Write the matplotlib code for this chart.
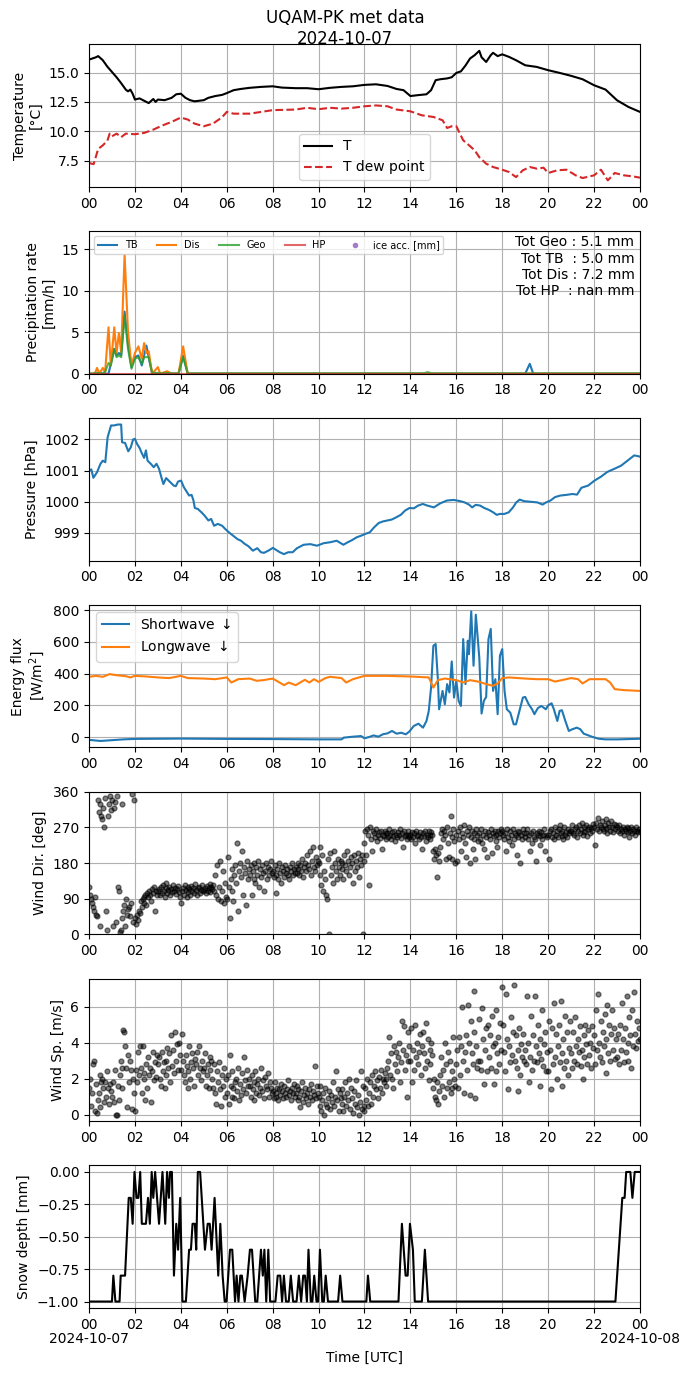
import numpy as np
import matplotlib
matplotlib.use("Agg")
import matplotlib.pyplot as plt
import matplotlib.dates as mdates

day = np.datetime64("2024-10-07T00:00")

# temperature [degC]
t_hours = [0, 0.3, 0.4, 0.6, 0.8, 1.0, 1.2, 1.4, 1.6, 1.7, 1.8, 1.9, 2.0, 2.2, 2.4, 2.6, 2.8, 2.9, 3.0, 3.3,
           3.6, 3.8, 4.0, 4.2, 4.4, 4.6, 5.0, 5.2, 5.5, 5.8, 6.0, 6.3, 6.6, 7.0, 7.5, 8.0, 8.4, 9.0, 9.5, 10.0,
           10.5, 11.0, 11.5, 12.0, 12.5, 13.0, 13.4, 13.7, 14.0, 14.3, 14.7, 14.9, 15.1, 15.3, 15.6, 15.8, 16.0,
           16.2, 16.4, 16.6, 16.8, 17.0, 17.1, 17.3, 17.5, 17.6, 17.8, 18.0, 18.3, 18.6, 19.0, 19.5, 20.0, 20.5,
           21.0, 21.5, 22.0, 22.5, 23.0, 23.5, 24.0]
temp = [16.1, 16.3, 16.4, 16.05, 15.5, 15.05, 14.6, 14.1, 13.55, 13.4, 13.55, 13.2, 12.7, 12.8, 12.6, 12.4,
        12.75, 12.5, 12.7, 12.65, 12.85, 13.15, 13.2, 12.85, 12.65, 12.55, 12.65, 12.85, 13.0, 13.1, 13.25, 13.5,
        13.6, 13.7, 13.78, 13.83, 13.72, 13.67, 13.67, 13.58, 13.7, 13.78, 13.83, 13.95, 14.0, 13.86, 13.6, 13.5,
        13.0, 13.07, 13.15, 13.5, 14.35, 14.43, 14.5, 14.6, 14.97, 15.1, 15.6, 16.2, 16.48, 16.85, 16.3, 15.9,
        16.48, 16.68, 16.4, 16.55, 16.33, 16.05, 15.62, 15.48, 15.2, 14.97, 14.72, 14.43, 13.92, 13.55, 12.64,
        12.07, 11.65]
td_hours = [0, 0.2, 0.4, 0.6, 0.8, 0.9, 1.0, 1.2, 1.4, 1.6, 2.0, 2.4, 2.8, 3.2, 3.6, 4.0, 4.3, 4.6, 5.0, 5.4,
            5.8, 6.0, 6.3, 7.0, 7.5, 8.0, 9.0, 9.5, 10.0, 10.5, 11.0, 11.5, 12.0, 12.5, 13.0, 13.4, 14.0, 14.5,
            15.0, 15.4, 15.6, 15.8, 16.0, 16.3, 16.5, 16.8, 17.0, 17.3, 17.6, 18.0, 18.3, 18.6, 18.9, 19.2, 19.5,
            19.8, 20.0, 20.4, 20.8, 21.2, 21.5, 22.0, 22.3, 22.6, 22.9, 23.3, 23.7, 24.0]
dewpoint = [7.3, 7.2, 8.5, 8.8, 9.2, 9.8, 9.57, 9.8, 9.5, 9.8, 9.75, 9.86, 10.14, 10.5, 10.8, 11.17, 11.0,
            10.65, 10.43, 10.65, 11.2, 11.65, 11.5, 11.5, 11.65, 11.8, 11.85, 12.0, 11.88, 12.0, 11.93, 12.0,
            12.13, 12.2, 12.13, 11.85, 11.7, 11.36, 11.22, 10.94, 10.28, 10.43, 10.43, 9.23, 8.9, 8.38, 7.8,
            7.24, 6.96, 6.73, 6.53, 6.1, 6.68, 6.96, 6.82, 6.9, 6.45, 6.68, 6.73, 6.25, 6.02, 6.25, 6.73, 5.82,
            6.45, 6.25, 6.16, 6.05]

# precipitation rate [mm/h]
pr_hours = [0, 0.25, 0.35, 0.45, 0.6, 0.7, 0.85, 0.95, 1.1, 1.2, 1.3, 1.4, 1.55, 1.7, 1.85, 2.0, 2.15, 2.3,
            2.4, 2.5, 2.6, 2.75, 3.0, 3.1, 3.4, 3.6, 3.9, 4.1, 4.3, 5.0, 14.6, 14.75, 14.9, 19.0, 19.2, 19.35, 24]
pr_tb = [0, 0, 0, 0, 0, 0, 0, 1.2, 3.0, 2.2, 2.5, 2.2, 7.5, 3.5, 0.8, 2.0, 2.2, 1.0, 2.2, 3.4, 2.0, 0, 0, 0,
         0, 0, 0, 2.2, 0, 0, 0, 0, 0, 0, 1.2, 0, 0]
pr_dis = [0, 0, 0.7, 0, 0.7, 0.2, 5.6, 1.0, 5.6, 2.5, 4.9, 2.6, 14.4, 5.0, 1.0, 2.5, 3.3, 1.8, 3.7, 2.5, 2.7,
          0, 0.8, 0, 0.3, 0, 0, 3.3, 0, 0, 0, 0, 0, 0, 0, 0, 0]
pr_geo = [0, 0.05, 0.1, 0.05, 0.1, 0.2, 1.3, 1.0, 3.0, 2.0, 2.2, 2.0, 7.0, 3.0, 0.6, 1.8, 2.0, 1.2, 2.0, 2.0,
          2.0, 0.1, 0.1, 0.05, 0.1, 0.05, 0.05, 2.0, 0.05, 0.05, 0.05, 0.2, 0.05, 0.05, 0.05, 0.05, 0.05]
pr_hp = [0] * len(pr_hours)
totals_txt = "Tot Geo : 5.1 mm\nTot TB  : 5.0 mm\nTot Dis : 7.2 mm\nTot HP  : nan mm"

# pressure [hPa]
p_hours = [0, 0.1, 0.19, 0.35, 0.5, 0.6, 0.71, 0.81, 0.96, 1.09, 1.25, 1.4, 1.44, 1.57, 1.71, 1.82, 1.92, 2.0,
           2.09, 2.21, 2.28, 2.4, 2.48, 2.55, 2.69, 2.82, 2.94, 3.05, 3.17, 3.24, 3.36, 3.51, 3.69, 3.78, 3.88,
           4.01, 4.13, 4.24, 4.36, 4.47, 4.55, 4.61, 4.74, 4.9, 5.03, 5.2, 5.32, 5.45, 5.61, 5.8, 5.93, 6.09,
           6.28, 6.47, 6.62, 6.78, 6.95, 7.14, 7.33, 7.49, 7.62, 7.81, 8.01, 8.16, 8.31, 8.49, 8.68, 8.87, 9.06,
           9.35, 9.64, 9.93, 10.22, 10.5, 10.79, 11.08, 11.27, 11.46, 11.66, 11.85, 12.04, 12.23, 12.42, 12.62,
           12.81, 13.0, 13.19, 13.38, 13.58, 13.77, 13.96, 14.15, 14.34, 14.54, 14.73, 15.02, 15.3, 15.59, 15.88,
           16.17, 16.36, 16.55, 16.69, 16.84, 17.03, 17.22, 17.42, 17.61, 17.76, 17.9, 18.09, 18.28, 18.47,
           18.61, 18.76, 18.95, 19.24, 19.53, 19.76, 19.91, 20.1, 20.3, 20.53, 20.78, 21.06, 21.26, 21.45,
           21.74, 22.02, 22.31, 22.56, 22.7, 22.89, 23.18, 23.37, 23.56, 23.75, 24.0]
pressure = [1001.0, 1001.04, 1000.77, 1000.95, 1001.22, 1001.32, 1001.27, 1002.07, 1002.45, 1002.45,
            1002.48, 1002.48, 1001.91, 1001.89, 1001.62, 1001.75, 1002.0, 1002.02, 1001.86, 1001.72,
            1001.59, 1001.41, 1001.65, 1001.32, 1001.22, 1001.11, 1001.22, 1001.06, 1000.74, 1000.57,
            1000.76, 1000.65, 1000.52, 1000.5, 1000.65, 1000.68, 1000.47, 1000.34, 1000.2, 1000.22,
            1000.04, 999.8, 999.77, 999.66, 999.56, 999.4, 999.45, 999.23, 999.29, 999.23,
            999.13, 999.02, 998.91, 998.8, 998.75, 998.65, 998.57, 998.43, 998.51, 998.38,
            998.36, 998.43, 998.52, 998.45, 998.38, 998.32, 998.38, 998.38, 998.51, 998.62,
            998.64, 998.59, 998.67, 998.7, 998.75, 998.62, 998.7, 998.77, 998.86, 998.91,
            998.97, 999.02, 999.18, 999.32, 999.37, 999.4, 999.43, 999.5, 999.58, 999.72,
            999.8, 999.79, 999.88, 999.93, 999.88, 999.82, 999.95, 1000.04, 1000.06, 1000.02,
            999.98, 999.91, 999.82, 999.9, 999.88, 999.8, 999.74, 999.66, 999.58, 999.61,
            999.61, 999.66, 999.82, 999.98, 1000.07, 1000.02, 1000.0, 999.98, 999.91, 999.98,
            1000.04, 1000.15, 1000.2, 1000.22, 1000.25, 1000.23, 1000.45, 1000.52, 1000.68, 1000.81,
            1000.95, 1001.0, 1001.06, 1001.16, 1001.27, 1001.38, 1001.49, 1001.45]

# radiation [W/m2]
sw_hours = [0, 0.5, 1.0, 1.5, 2.0, 4.0, 6.0, 8.0, 10.0, 11.0, 11.1, 11.5, 11.85, 12.0, 12.2, 12.4, 12.6, 12.8,
            13.0, 13.2, 13.4, 13.6, 13.8, 13.95, 14.15, 14.35, 14.55, 14.7, 14.8, 14.9, 15.0, 15.1, 15.2, 15.25,
            15.4, 15.5, 15.6, 15.7, 15.8, 15.9, 16.0, 16.1, 16.2, 16.3, 16.4, 16.5, 16.55, 16.65, 16.75, 16.85,
            17.0, 17.1, 17.2, 17.3, 17.4, 17.5, 17.6, 17.7, 17.8, 17.9, 18.0, 18.1, 18.2, 18.35, 18.5, 18.6,
            18.75, 18.9, 19.0, 19.15, 19.3, 19.4, 19.55, 19.7, 19.9, 20.0, 20.15, 20.25, 20.4, 20.5, 20.6, 20.75,
            20.9, 21.05, 21.25, 21.4, 21.55, 21.7, 21.9, 22.2, 22.5, 23.0, 24.0]
shortwave = [-18, -25, -20, -15, -12, -10, -12, -13, -15, -15, -4, 2, 6, -8, 0, 10, 2, 17, 23, 38, 21, 27, 17,
             34, 70, 84, 59, 101, 165, 312, 576, 587, 355, 175, 291, 207, 334, 281, 477, 249, 355, 228, 196,
             618, 334, 608, 523, 793, 450, 772, 502, 148, 228, 253, 618, 682, 291, 365, 144, 513, 555, 291, 175,
             154, 80, 80, 165, 249, 253, 207, 175, 144, 182, 196, 175, 200, 213, 175, 101, 165, 169, 101, 38, 49,
             59, 49, 21, 13, 2, -11, -15, -15, -11]
lw_hours = [0, 0.3, 0.6, 0.9, 1.2, 1.6, 1.8, 2.0, 2.5, 3.0, 3.5, 4.0, 4.3, 5.0, 5.5, 6.0, 6.2, 6.5, 7.0, 7.3,
            7.6, 8.0, 8.3, 8.5, 8.7, 9.0, 9.4, 9.6, 9.8, 10.0, 10.3, 10.5, 11.0, 11.2, 11.5, 12.0, 13.0, 14.0,
            14.8, 15.0, 15.2, 15.5, 16.0, 16.3, 16.6, 17.0, 17.3, 17.6, 17.8, 18.0, 18.3, 19.0, 19.5, 20.0, 20.3,
            20.6, 21.0, 21.3, 21.5, 21.8, 22.5, 22.7, 22.9, 23.3, 24.0]
longwave = [380, 386, 380, 397, 390, 384, 376, 386, 382, 376, 372, 386, 372, 369, 365, 376, 344, 365, 369,
            355, 359, 369, 344, 327, 344, 327, 361, 344, 365, 348, 372, 380, 372, 344, 365, 386, 386, 382, 376,
            312, 359, 369, 359, 344, 359, 348, 334, 323, 338, 372, 376, 369, 365, 365, 350, 359, 372, 365, 338,
            365, 365, 344, 302, 296, 291]

# wind, one value every 2.5 minutes (one row per hour)
wind_dir = [
    120, 100, 90, 80, 70, 60, 95, 50, 45, 340, 310, 330, 20, 300, 290, 320, 270, 345, 60, 10, 300, 330, 350, 315,
    340, 20, 320, 335, 30, 350, 120, 110, 5, 10, 330, 40, 60, 75, 20, 90, 50, 65, 70, 45, 80, 355, 30, 340,
    40, 25, 50, 35, 60, 55, 85, 70, 90, 95, 80, 100, 75, 105, 95, 110, 100, 85, 115, 105, 120, 60, 110, 100,
    110, 115, 100, 120, 105, 125, 110, 95, 118, 130, 105, 112, 120, 100, 115, 108, 125, 110, 118, 102, 115, 122, 108, 95,
    80, 110, 118, 100, 125, 112, 95, 120, 108, 115, 100, 122, 110, 118, 104, 126, 112, 98, 116, 120, 105, 113, 124, 110,
    112, 118, 105, 122, 110, 116, 128, 108, 120, 115, 125, 110, 150, 100, 175, 90, 120, 185, 85, 110, 160, 80, 130, 95,
    90, 195, 120, 40, 140, 110, 165, 85, 150, 175, 130, 230, 60, 160, 180, 145, 210, 100, 170, 155, 75, 185, 140, 165,
    150, 175, 100, 160, 140, 180, 130, 170, 150, 185, 120, 165, 145, 175, 155, 110, 160, 180, 140, 170, 150, 165, 185, 155,
    160, 145, 175, 150, 105, 165, 140, 180, 155, 130, 170, 160, 145, 175, 155, 165, 150, 140, 170, 160, 180, 150, 165, 155,
    170, 155, 180, 165, 150, 175, 160, 190, 145, 170, 180, 160, 200, 175, 165, 210, 150, 185, 220, 170, 160, 195, 175, 185,
    180, 150, 220, 125, 200, 110, 160, 140, 100, 90, 190, 0, 205, 150, 170, 130, 210, 180, 160, 140, 190, 170, 150, 185,
    165, 180, 140, 200, 175, 160, 210, 185, 150, 170, 195, 180, 130, 200, 160, 185, 170, 205, 145, 190, 175, 200, 0, 185,
    230, 260, 200, 265, 250, 125, 270, 240, 210, 260, 255, 245, 265, 235, 250, 258, 242, 262, 215, 252, 248, 260, 240, 255,
    255, 245, 265, 250, 240, 258, 248, 262, 235, 252, 245, 258, 250, 265, 242, 255, 220, 260, 248, 252, 240, 262, 250, 245,
    250, 240, 258, 245, 255, 230, 262, 248, 252, 240, 258, 245, 215, 255, 248, 260, 235, 252, 245, 262, 250, 240, 258, 250,
    210, 190, 215, 200, 145, 205, 185, 220, 255, 265, 240, 260, 250, 190, 270, 230, 195, 255, 300, 245, 190, 265, 235, 180,
    250, 185, 260, 240, 270, 210, 255, 245, 275, 230, 195, 260, 250, 270, 180, 245, 260, 215, 255, 240, 190, 265, 250, 235,
    255, 240, 265, 230, 250, 215, 262, 245, 195, 258, 250, 240, 265, 205, 255, 248, 262, 235, 250, 220, 260, 245, 255, 265,
    262, 250, 240, 255, 210, 265, 245, 235, 260, 250, 225, 265, 240, 255, 250, 200, 262, 245, 258, 180, 250, 240, 265, 255,
    245, 255, 265, 240, 250, 210, 255, 230, 260, 245, 240, 185, 255, 250, 262, 225, 248, 258, 240, 252, 265, 210, 250, 245,
    250, 190, 260, 265, 245, 255, 240, 270, 250, 260, 245, 265, 275, 255, 248, 262, 240, 270, 252, 258, 245, 265, 255, 260,
    260, 275, 255, 250, 265, 270, 245, 260, 275, 255, 265, 280, 250, 270, 258, 262, 275, 248, 265, 272, 255, 268, 260, 278,
    270, 225, 280, 265, 295, 260, 275, 270, 285, 265, 260, 275, 290, 268, 255, 280, 272, 262, 285, 270, 258, 278, 265, 275,
    270, 260, 275, 255, 265, 260, 270, 250, 265, 260, 270, 258, 268, 245, 262, 272, 255, 266, 260, 250, 270, 262, 258, 265,
    260]
wind_sp = [
    1.5, 2.0, 0.5, 1.2, 2.8, 3.0, 0.2, 1.7, 0.1, 0.8, 1.2, 2.2, 0.4, 1.8, 2.0, 1.5, 0.7, 1.8, 1.0, 2.4, 1.5, 0.6, 1.7, 1.3,
    1.0, 1.8, 0.7, 2.5, 0.0, 0.0, 1.6, 0.8, 2.2, 3.0, 1.5, 2.6, 4.7, 4.6, 3.8, 2.6, 0.4, 3.3, 1.8, 3.0, 2.5, 0.3, 2.0, 1.2,
    0.2, 2.5, 1.8, 3.5, 2.2, 3.8, 2.6, 1.2, 3.8, 2.0, 2.3, 0.8, 2.8, 1.5, 3.2, 2.2, 2.6, 0.7, 2.4, 3.5, 1.9, 2.9, 2.1, 3.3,
    2.8, 3.2, 2.0, 1.6, 3.5, 2.4, 2.9, 1.5, 3.0, 2.2, 3.7, 2.6, 3.4, 1.8, 4.4, 2.7, 3.6, 2.3, 4.6, 3.0, 3.9, 2.5, 4.0, 3.3,
    2.5, 4.5, 3.0, 2.2, 1.8, 3.3, 2.7, 1.5, 2.4, 3.8, 2.0, 2.9, 3.4, 2.6, 1.6, 3.1, 2.8, 3.5, 2.2, 3.8, 2.6, 1.9, 3.0, 2.4,
    2.6, 3.4, 1.6, 2.2, 2.8, 1.5, 3.2, 2.5, 3.0, 2.0, 1.5, 2.8, 1.2, 0.6, 2.4, 1.8, 2.9, 1.4, 0.5, 2.2, 1.6, 2.6, 1.0, 2.0,
    1.2, 2.2, 0.6, 3.3, 1.6, 1.0, 2.4, 1.5, 0.9, 1.8, 2.0, 1.3, 2.6, 0.8, 1.7, 1.1, 2.3, 1.4, 3.2, 1.9, 1.2, 2.5, 1.6, 2.0,
    1.6, 1.0, 2.2, 1.4, 1.8, 0.8, 2.4, 1.2, 1.7, 2.0, 1.1, 1.5, 2.6, 1.3, 1.9, 0.9, 2.1, 1.6, 1.4, 2.3, 1.0, 1.8, 1.5, 1.2,
    1.3, 0.9, 1.8, 1.2, 1.0, 1.5, 0.8, 1.4, 1.1, 1.7, 1.3, 0.9, 1.6, 1.2, 1.0, 1.4, 1.9, 1.1, 1.3, 0.8, 1.5, 1.2, 1.7, 1.0,
    1.2, 1.6, 0.8, 1.4, 1.0, 0.4, 1.3, 1.8, 0.7, 1.1, 1.5, 0.9, 1.2, 0.6, 1.4, 1.0, 1.7, 0.8, 1.3, 1.1, 2.7, 0.9, 1.6, 1.2,
    1.0, 0.5, 1.6, 0.2, 0.8, 1.2, 0.0, 1.5, 0.6, 0.4, 0.9, 1.3, 0.3, 1.1, 0.7, 1.8, 0.5, 1.0, 2.4, 0.8, 1.4, 0.2, 1.2, 0.9,
    0.6, 1.4, 0.2, 1.0, 1.8, 0.5, 1.2, 0.8, 2.0, 0.3, 1.5, 0.9, 0.1, 1.3, 0.6, 1.9, 0.4, 1.1, 0.0, 0.7, 2.4, 0.3, 1.6, 0.5,
    0.2, 1.5, 0.8, 2.0, 0.5, 1.2, 1.8, 0.6, 2.2, 1.0, 1.6, 2.4, 1.4, 1.9, 0.9, 2.1, 1.5, 2.5, 1.2, 2.0, 1.8, 2.3, 1.6, 2.0,
    2.6, 3.0, 4.3, 2.2, 3.4, 2.0, 1.5, 3.8, 2.8, 3.5, 2.4, 3.2, 4.0, 1.8, 2.9, 5.2, 3.6, 4.9, 2.5, 3.3, 1.0, 4.6, 3.0, 3.8,
    3.0, 4.8, 1.8, 3.6, 2.5, 5.0, 3.2, 4.0, 2.8, 3.5, 4.5, 2.2, 3.8, 4.6, 3.4, 2.6, 5.1, 3.0, 4.2, 1.9, 3.6, 2.8, 4.0, 3.3,
    1.5, 2.0, 1.0, 0.8, 1.8, 0.6, 1.3, 2.2, 3.2, 1.6, 2.5, 1.0, 4.0, 2.8, 1.5, 3.5, 1.8, 3.0, 1.2, 2.4, 1.5, 4.3, 2.0, 1.6,
    2.8, 3.6, 1.5, 4.3, 2.2, 3.8, 6.0, 3.0, 1.2, 3.5, 4.4, 2.5, 6.1, 4.0, 1.1, 5.2, 3.4, 2.8, 6.9, 4.6, 0.9, 3.8, 2.6, 3.0,
    5.3, 3.0, 2.5, 5.9, 4.2, 1.7, 3.6, 4.8, 2.4, 5.0, 3.2, 4.4, 2.6, 5.5, 3.8, 1.7, 4.0, 2.4, 5.8, 3.4, 4.3, 2.8, 5.1, 3.6,
    7.1, 5.0, 3.5, 2.4, 6.7, 4.2, 1.4, 3.8, 2.9, 5.4, 3.3, 4.6, 7.2, 3.0, 4.4, 2.6, 1.3, 3.6, 4.8, 2.2, 3.9, 3.2, 4.5, 3.0,
    3.6, 2.8, 6.6, 4.0, 1.8, 3.2, 5.5, 2.5, 4.4, 3.0, 6.6, 3.8, 2.9, 5.0, 3.4, 1.6, 4.2, 3.1, 5.8, 2.7, 3.9, 4.6, 2.4, 3.5,
    2.4, 5.2, 3.6, 1.4, 4.8, 2.8, 6.2, 3.2, 4.5, 2.0, 3.8, 5.0, 2.9, 6.3, 3.4, 1.6, 4.2, 2.6, 5.5, 3.0, 4.6, 2.2, 3.7, 5.2,
    3.4, 2.6, 4.6, 3.0, 5.4, 3.8, 2.8, 4.2, 3.5, 4.9, 2.7, 3.6, 2.0, 4.4, 3.2, 5.0, 3.9, 2.8, 4.7, 3.3, 4.0, 2.6, 4.9, 3.7,
    4.4, 2.8, 5.8, 3.6, 6.7, 4.0, 3.2, 5.2, 2.9, 4.6, 3.8, 5.6, 2.3, 4.2, 6.1, 3.4, 5.0, 3.0, 4.5, 5.8, 3.6, 4.8, 3.1, 4.2,
    3.2, 4.5, 2.8, 5.0, 3.6, 6.2, 4.2, 2.9, 4.8, 3.5, 6.6, 4.0, 3.0, 5.4, 4.4, 2.6, 5.8, 3.8, 6.8, 4.5, 3.7, 5.2, 4.1, 4.8,
    4.2]

# snow depth [mm]
snow_hours = [0, 1.0, 1.06, 1.15, 1.33, 1.38, 1.57, 1.73, 1.82, 1.9, 1.98, 2.07, 2.15, 2.23, 2.3, 2.48, 2.57,
              2.65, 2.73, 2.8, 2.88, 3.05, 3.2, 3.32, 3.4, 3.48, 3.53, 3.61, 3.7, 3.8, 3.88, 3.97, 4.07, 4.22,
              4.36, 4.44, 4.51, 4.61, 4.67, 4.74, 4.84, 5.05, 5.17, 5.26, 5.34, 5.47, 5.63, 5.72, 5.82, 5.91,
              5.99, 6.14, 6.24, 6.36, 6.43, 6.51, 6.59, 6.66, 6.78, 6.91, 7.01, 7.1, 7.24, 7.33, 7.49, 7.57,
              7.64, 7.72, 7.81, 7.89, 8.12, 8.22, 8.33, 8.41, 8.49, 8.58, 8.7, 8.79, 8.89, 9.04, 9.14, 9.24,
              9.33, 9.41, 9.49, 9.56, 9.66, 9.73, 9.81, 9.91, 9.98, 10.06, 10.16, 10.23, 10.31, 10.41, 10.85,
              10.94, 11.04, 12.08, 12.15, 12.25, 13.48, 13.63, 13.79, 13.88, 13.98, 14.11, 14.19, 14.5, 14.63,
              14.77, 22.93, 23.23, 23.33, 23.4, 23.58, 23.67, 23.77, 24.0]
snow = [-1.0, -1.0, -0.8, -1.0, -1.0, -0.8, -0.8, -0.2, -0.2, -0.4,
        0.0, -0.2, -0.2, 0.0, -0.4, -0.4, -0.2, -0.4, 0.0, -0.2,
        0.0, -0.4, 0.0, -0.4, 0.0, -0.2, 0.0, 0.0, -0.8, -0.4,
        -0.6, -0.2, -1.0, -1.0, -0.6, -0.6, -0.4, -0.4, -0.6, 0.0,
        0.0, -0.6, -0.4, -0.4, -0.6, -0.2, -0.8, -0.4, -0.8, -1.0,
        -1.0, -0.6, -0.6, -1.0, -0.8, -1.0, -0.8, -0.8, -1.0, -0.8,
        -0.6, -0.6, -1.0, -1.0, -0.6, -0.8, -0.6, -1.0, -0.6, -1.0,
        -1.0, -0.8, -0.8, -1.0, -0.8, -1.0, -1.0, -0.8, -1.0, -1.0,
        -0.8, -1.0, -0.8, -0.8, -1.0, -0.6, -1.0, -1.0, -0.8, -1.0,
        -1.0, -0.6, -1.0, -1.0, -0.8, -1.0, -1.0, -0.8, -1.0, -1.0,
        -0.8, -1.0, -1.0, -0.4, -0.8, -0.8, -0.4, -0.6, -1.0, -1.0,
        -0.6, -1.0, -1.0, -0.2, -0.2, 0.0, 0.0, -0.2, 0.0, 0.0]


def to_time(hours):
    return day + (np.asarray(hours, dtype=float) * 3600).astype("timedelta64[s]")


wd_time = day + np.arange(len(wind_dir)) * np.timedelta64(150, "s")
ws_time = day + np.arange(len(wind_sp)) * np.timedelta64(150, "s")

fig, axes = plt.subplots(7, 1, figsize=(6.9, 13.77), dpi=100)
fig.subplots_adjust(left=0.129, right=0.9275, top=0.9678, bottom=0.0501, hspace=0.311)
fig.suptitle("UQAM-PK met data\n2024-10-07", fontsize=12, y=0.9935)

ax = axes[0]
ax.plot(to_time(t_hours), temp, color="k", lw=1.5, label="T")
ax.plot(to_time(td_hours), dewpoint, color="C3", ls="--", lw=1.5, label="T dew point")
ax.set_ylabel("Temperature\n[°C]")
ax.legend(loc="lower center")

ax = axes[1]
ptime = to_time(pr_hours)
ax.plot(ptime, pr_tb, color="C0", label="TB")
ax.plot(ptime, pr_dis, color="C1", label="Dis")
ax.plot(ptime, pr_geo, color="C2", alpha=0.8, label="Geo")
ax.plot(ptime, pr_hp, color="C3", alpha=0.7, label="HP")
ax.plot([], [], "o", color="C4", ms=3, alpha=0.8, label="ice acc. [mm]")
ax.set_ylim(0, 17.2)
ax.set_ylabel("Precipitation rate\n[mm/h]")
ax.legend(loc="upper left", ncol=5, fontsize=7)
ax.text(0.99, 0.97, totals_txt, transform=ax.transAxes, ha="right", va="top", fontsize=10)

ax = axes[2]
ax.plot(to_time(p_hours), pressure, color="C0")
ax.set_ylabel("Pressure [hPa]")

ax = axes[3]
ax.plot(to_time(sw_hours), shortwave, color="C0", label="Shortwave $\\downarrow$")
ax.plot(to_time(lw_hours), longwave, color="C1", label="Longwave $\\downarrow$")
ax.set_ylabel("Energy flux\n[W/m$^2$]")
ax.legend(loc="upper left")

ax = axes[4]
ax.plot(wd_time, wind_dir, "o", color="k", ms=3.5, alpha=0.5)
ax.set_ylim(0, 360)
ax.set_yticks([0, 90, 180, 270, 360])
ax.set_ylabel("Wind Dir. [deg]")

ax = axes[5]
ax.plot(ws_time, wind_sp, "o", color="k", ms=3.5, alpha=0.5)
ax.set_ylabel("Wind Sp. [m/s]")

ax = axes[6]
ax.plot(to_time(snow_hours), snow, color="k")
ax.set_ylabel("Snow depth [mm]")
ax.set_xlabel("Time [UTC]")

for ax in axes:
    ax.set_xlim(day, day + np.timedelta64(1, "D"))
    ax.xaxis.set_major_locator(mdates.HourLocator(byhour=range(0, 24, 2)))
    ax.xaxis.set_major_formatter(mdates.DateFormatter("%H"))
    ax.grid(True)

# date under the first and last tick of the bottom panel
last = axes[-1]
last.xaxis.remove_overlapping_locs = False
last.xaxis.set_minor_locator(mdates.DayLocator())
last.xaxis.set_minor_formatter(mdates.DateFormatter("%Y-%m-%d"))
last.tick_params(axis="x", which="minor", length=0, pad=17)

fig.savefig("out.png", dpi=100)
